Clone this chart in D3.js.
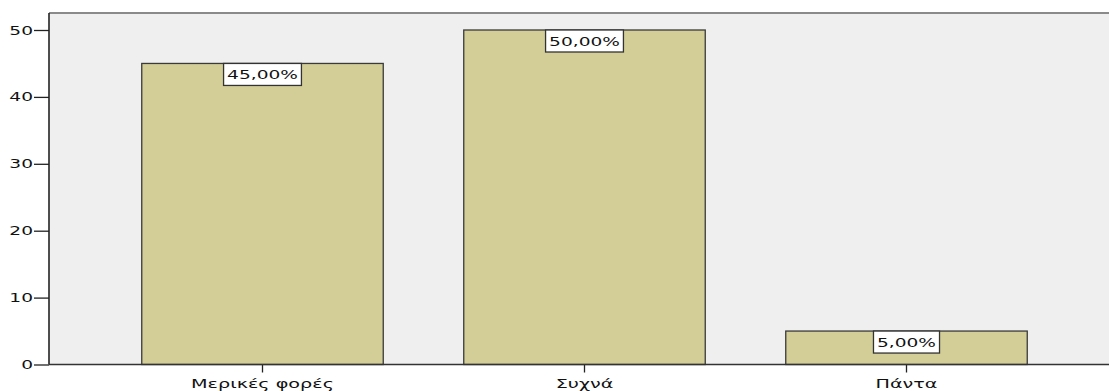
<!DOCTYPE html>
<html><head><meta charset="utf-8">
<script src="https://cdn.jsdelivr.net/npm/d3@7"></script>
<style>body{margin:0;background:#fff}svg{display:block}text{font-family:"DejaVu Sans",Verdana,sans-serif;fill:#111}</style>
</head><body><svg id="c" width="1109" height="391"></svg>
<script>
const categories = ["Μερικές φορές", "Συχνά", "Πάντα"];
const counts = [45, 50, 5];
const percentLabels = ["45,00%", "50,00%", "5,00%"];
const yTicks = [0, 10, 20, 30, 40, 50];

const SX = 1.55, SXC = 1.6, FS = 12;
const svg = d3.select("#c");
const L = 49, T = 13, R = 1109, B = 364.5;
const y = d3.scaleLinear().domain([0, 50]).range([B, 30]);
const x = d3.scaleBand().domain(categories).range([101.5, 1067.5]).paddingInner(0.25).paddingOuter(0.125);

svg.append("rect").attr("x", L).attr("y", T).attr("width", R - L).attr("height", B - T).attr("fill", "#efefef");
svg.append("line").attr("x1", L).attr("x2", R).attr("y1", T).attr("y2", T).attr("stroke", "#8a8a8a").attr("stroke-width", 2);

function stext(parent, tx, ty, str, anchor, sx) {
  const g = parent.append("g").attr("transform", `translate(${tx},${ty}) scale(${sx},1)`);
  return g.append("text").attr("text-anchor", anchor).attr("font-size", FS).text(str);
}

// bars
categories.forEach((c, i) => {
  svg.append("rect").attr("x", x(c)).attr("y", y(counts[i])).attr("width", x.bandwidth())
    .attr("height", y(0) - y(counts[i])).attr("fill", "#d3ce97").attr("stroke", "#3a3a3a").attr("stroke-width", 1.3);
});

// axes
const ya = d3.axisLeft(y).tickValues(yTicks).tickSize(15).tickPadding(1);
const yg = svg.append("g").attr("transform", `translate(${L},0)`).call(ya);
yg.select(".domain").remove();
yg.selectAll(".tick line").attr("stroke", "#222").attr("stroke-width", 1.3);
yg.selectAll(".tick text").remove();
yTicks.forEach(v => stext(svg, L - 16, y(v) + 4.5, String(v), "end", SX));
svg.append("line").attr("x1", L).attr("x2", L).attr("y1", T).attr("y2", B).attr("stroke", "#222").attr("stroke-width", 1.6);

const xa = d3.axisBottom(x).tickSize(8).tickFormat("");
const xg = svg.append("g").attr("transform", `translate(0,${B})`).call(xa);
xg.select(".domain").remove();
xg.selectAll(".tick line").attr("stroke", "#222").attr("stroke-width", 1.3);
categories.forEach(c => stext(svg, x(c) + x.bandwidth() / 2, 388, c, "middle", SXC));
svg.append("line").attr("x1", L).attr("x2", R).attr("y1", B).attr("y2", B).attr("stroke", "#333").attr("stroke-width", 1.6);

// value labels
categories.forEach((c, i) => {
  const cx = x(c) + x.bandwidth() / 2, top = y(counts[i]);
  const box = svg.append("rect");
  const t = stext(svg, cx, top + 16, percentLabels[i], "middle", SX);
  const w = t.node().getComputedTextLength() * SX + 7;
  box.attr("x", cx - w / 2).attr("y", top).attr("width", w).attr("height", 22)
    .attr("fill", "#fff").attr("stroke", "#333").attr("stroke-width", 1.3);
});
</script></body></html>
